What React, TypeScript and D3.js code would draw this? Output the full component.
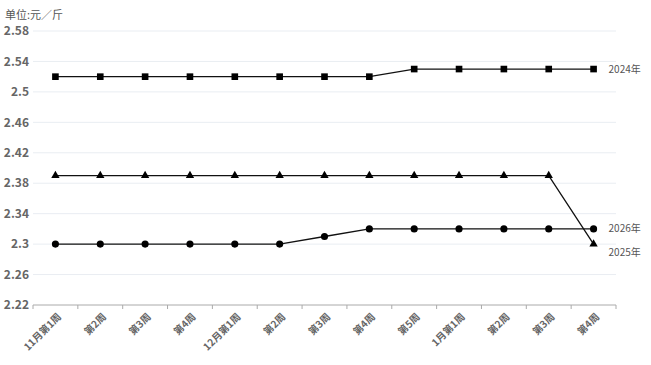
import React from 'react';
import * as d3 from 'd3';

const width = 651, height = 365;
const margin = { top: 31, right: 35, bottom: 60, left: 33 };

// x categories (weeks)
const weeks = ['11月第1周', '第2周', '第3周', '第4周', '12月第1周', '第2周', '第3周', '第4周', '第5周', '1月第1周', '第2周', '第3周', '第4周'];
// y axis ticks
const yTicks = [2.22, 2.26, 2.3, 2.34, 2.38, 2.42, 2.46, 2.5, 2.54, 2.58];

// series values (元/斤)
const s2024 = [2.52, 2.52, 2.52, 2.52, 2.52, 2.52, 2.52, 2.52, 2.53, 2.53, 2.53, 2.53, 2.53];
const s2025 = [2.39, 2.39, 2.39, 2.39, 2.39, 2.39, 2.39, 2.39, 2.39, 2.39, 2.39, 2.39, 2.3];
const s2026 = [2.3, 2.3, 2.3, 2.3, 2.3, 2.3, 2.31, 2.32, 2.32, 2.32, 2.32, 2.32, 2.32];

const series = [
    { name: '2024年', values: s2024, symbol: d3.symbolSquare, size: 44, dy: 0 },
    { name: '2025年', values: s2025, symbol: d3.symbolTriangle, size: 30, dy: 8 },
    { name: '2026年', values: s2026, symbol: d3.symbolCircle, size: 40, dy: 0 },
];

const font = '"Noto Sans CJK SC", "Noto Sans", sans-serif';

export default function App() {
    // band scale for the week categories
    const x = d3.scaleBand<number>()
        .domain(weeks.map((_, i) => i))
        .range([margin.left, width - margin.right]);
    const y = d3.scaleLinear().domain([2.22, 2.58]).range([height - margin.bottom, margin.top]);

    const cx = (i: number) => (x(i) as number) + x.bandwidth() / 2;
    const line = d3.line<number>().x((_, i) => cx(i)).y(d => y(d));

    const boundaries = weeks.map((_, i) => x(i) as number).concat([width - margin.right]);
    const last = weeks.length - 1;

    return (
        <svg width={width} height={height} style={{ position: 'absolute', left: 0, top: 0, fontFamily: font }}>
            <text x={5} y={19} fontSize={11} fill="#555">单位:元／斤</text>
            {/* grid + y labels */}
            {yTicks.map(t => (
                <g key={t}>
                    {t !== 2.22 && <line x1={margin.left} x2={width - margin.right} y1={y(t)} y2={y(t)} stroke="#e9edf2" strokeWidth={1} />}
                    <text x={29} y={y(t)} dy="0.35em" textAnchor="end" fontSize={12} fontWeight="bold" fill="#666">{t}</text>
                </g>
            ))}
            {/* x axis */}
            <line x1={margin.left} x2={width - margin.right} y1={y(2.22)} y2={y(2.22)} stroke="#aaa" />
            {boundaries.map((b, i) => (
                <line key={i} x1={b} x2={b} y1={y(2.22)} y2={y(2.22) + 4} stroke="#aaa" />
            ))}
            {weeks.map((w, i) => (
                <text key={i} transform={`translate(${cx(i) + 4},${y(2.22) + 10}) rotate(-45)`}
                    textAnchor="end" dy="0.35em" fontSize={10} fontWeight="bold" fill="#666">{w}</text>
            ))}
            {/* series */}
            {series.map(s => (
                <g key={s.name}>
                    <path d={line(s.values) as string} fill="none" stroke="#111" strokeWidth={1.3} />
                    {s.values.map((v, i) => (
                        <path key={i} d={d3.symbol(s.symbol, s.size)() as string}
                            transform={`translate(${cx(i)},${y(v)})`} fill="#000" />
                    ))}
                    <text x={cx(last) + 15} y={y(s.values[last]) + s.dy} dy="0.35em" fontSize={10} fill="#555">{s.name}</text>
                </g>
            ))}
        </svg>
    );
}
